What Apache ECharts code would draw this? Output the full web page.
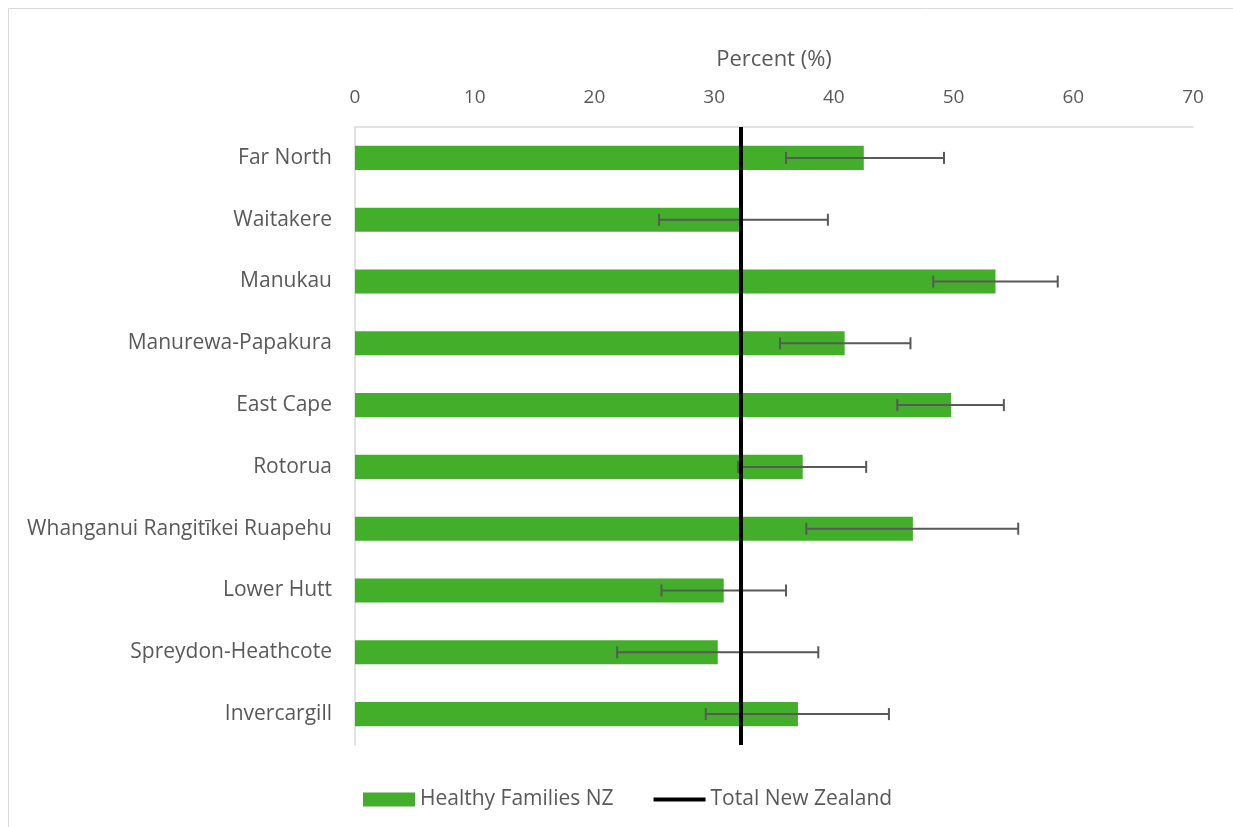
<!DOCTYPE html>
<html>
<head>
<meta charset="utf-8">
<script src="https://cdn.jsdelivr.net/npm/echarts@6/dist/echarts.min.js"></script>
<style>
  html, body { margin: 0; padding: 0; background: #fff; }
  #chart { width: 1233px; height: 827px; }
</style>
</head>
<body>
<div id="chart"></div>
<script>
// regions, top to bottom
const regions = [
  "Far North", "Waitakere", "Manukau", "Manurewa-Papakura", "East Cape",
  "Rotorua", "Whanganui Rangitīkei Ruapehu", "Lower Hutt",
  "Spreydon-Heathcote", "Invercargill"
];
const percent = [42.5, 32.4, 53.5, 40.9, 49.8, 37.4, 46.6, 30.8, 30.3, 37.0];
const ciLow   = [36.0, 25.4, 48.3, 35.5, 45.3, 32.0, 37.7, 25.6, 21.9, 29.3];
const ciHigh  = [49.2, 39.5, 58.7, 46.4, 54.2, 42.7, 55.4, 36.0, 38.7, 44.6];
const totalNZ = 32.2;
const xTicks = [0, 10, 20, 30, 40, 50, 60, 70];

const textColor = "#595959";
const fontFamily = "'Open Sans', 'Liberation Sans', sans-serif";

const chart = echarts.init(document.getElementById("chart"));

// 誤差線資料
const errData = regions.map((r, i) => [i, ciLow[i], ciHigh[i]]);

const renderError = (params, api) => {
  const idx = api.value(0);
  const lo = api.coord([api.value(1), idx]);
  const hi = api.coord([api.value(2), idx]);
  const cap = 6;
  const style = { stroke: "#595959", lineWidth: 2 };
  return {
    type: "group",
    children: [
      { type: "line", shape: { x1: lo[0], y1: lo[1], x2: hi[0], y2: hi[1] }, style },
      { type: "line", shape: { x1: lo[0], y1: lo[1] - cap, x2: lo[0], y2: lo[1] + cap }, style },
      { type: "line", shape: { x1: hi[0], y1: hi[1] - cap, x2: hi[0], y2: hi[1] + cap }, style },
    ],
  };
};

chart.setOption({
  animation: false,
  textStyle: { fontFamily },
  graphic: [
    {
      type: "rect",
      shape: { x: 8.5, y: 8.5, width: 1230, height: 830 },
      style: { fill: "none", stroke: "#d9d9d9", lineWidth: 1 },
      silent: true,
    },
  ],
  grid: { left: 355, right: 40, top: 127, bottom: 82 },
  legend: {
    left: 358,
    top: 784,
    itemWidth: 52,
    itemHeight: 14,
    itemGap: 40,
    textStyle: { color: textColor, fontSize: 21, fontFamily },
    data: [
      { name: "Healthy Families NZ", icon: "rect" },
      { name: "Total New Zealand", icon: "path://M0,0 H52 V4 H0 Z" },
    ],
  },
  xAxis: {
    type: "value",
    position: "top",
    min: xTicks[0],
    max: xTicks[xTicks.length - 1],
    interval: 10,
    name: "Percent (%)",
    nameLocation: "middle",
    nameGap: 56,
    nameTextStyle: { color: textColor, fontSize: 22, fontFamily },
    axisLine: { show: true, lineStyle: { color: "#d9d9d9", width: 1.5 } },
    axisTick: { show: false },
    splitLine: { show: false },
    axisLabel: { color: textColor, fontSize: 19, margin: 20, fontFamily },
  },
  yAxis: {
    type: "category",
    inverse: true,
    data: regions,
    axisLine: { show: true, lineStyle: { color: "#d9d9d9", width: 1.5 } },
    axisTick: { show: false },
    axisLabel: { color: textColor, fontSize: 21, margin: 23, fontFamily },
  },
  series: [
    {
      name: "Healthy Families NZ",
      type: "bar",
      data: percent,
      barWidth: "39%",
      itemStyle: { color: "#43ae2a" },
      silent: true,
    },
    {
      name: "Total New Zealand",
      type: "line",
      data: [],
      symbol: "none",
      itemStyle: { color: "#000" },
      lineStyle: { color: "#000", width: 4 },
      markLine: {
        silent: true,
        symbol: ["none", "none"],
        label: { show: false },
        lineStyle: { color: "#000", width: 4, type: "solid" },
        data: [{ xAxis: totalNZ }],
      },
      z: 3,
    },
    {
      name: "error",
      type: "custom",
      renderItem: renderError,
      data: errData,
      encode: { x: [1, 2], y: 0 },
      silent: true,
      z: 4,
    },
  ],
});
</script>
</body>
</html>
